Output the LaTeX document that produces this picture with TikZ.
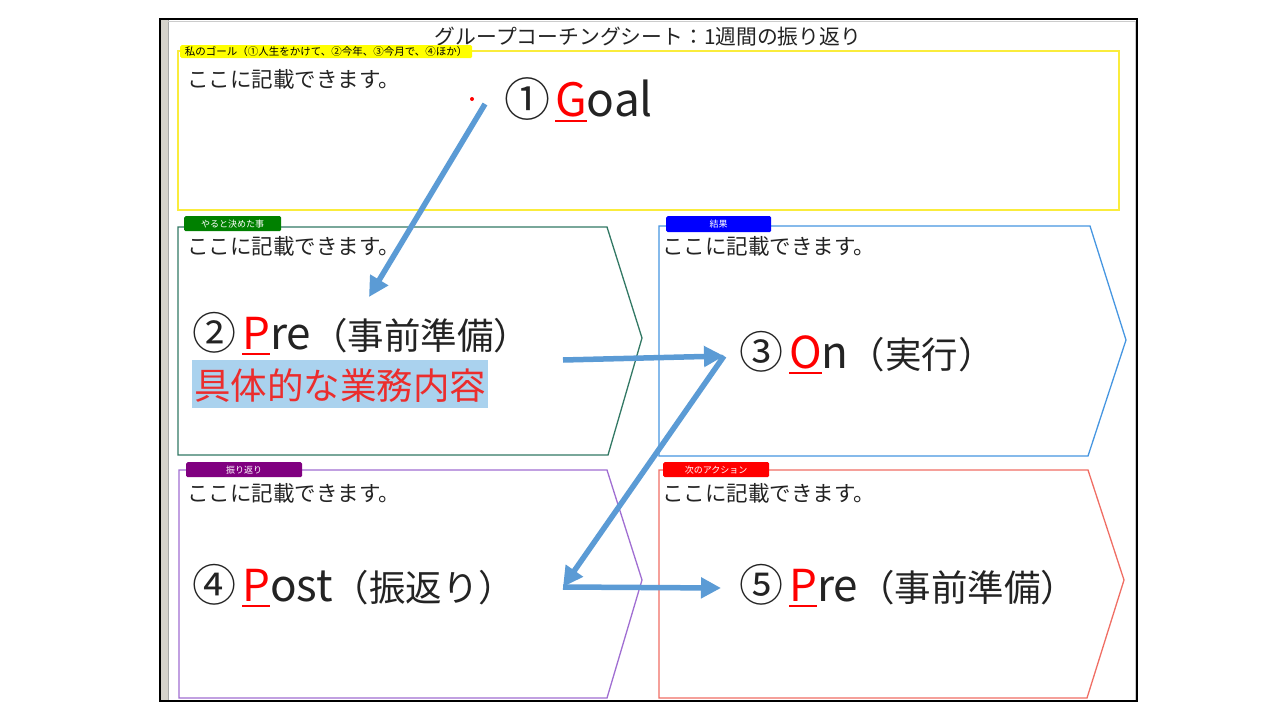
\documentclass[tikz,border=0pt]{standalone}
\usepackage{fontspec}
\setmainfont{Noto Sans CJK JP}
\usetikzlibrary{arrows.meta}
\definecolor{arrowblue}{RGB}{91,155,213}
\definecolor{ylwline}{RGB}{250,236,60}
\definecolor{grnline}{RGB}{50,120,100}
\definecolor{bluline}{RGB}{70,150,225}
\definecolor{purline}{RGB}{160,110,210}
\definecolor{redline}{RGB}{240,110,100}
\definecolor{tabgreen}{RGB}{0,128,0}
\definecolor{tabblue}{RGB}{0,0,255}
\definecolor{tabpurple}{RGB}{128,0,128}
\definecolor{tabred}{RGB}{255,0,0}
\definecolor{tabyellow}{RGB}{255,255,0}
\definecolor{hlblue}{RGB}{170,210,238}
\definecolor{txtdark}{RGB}{35,35,35}
\definecolor{txtred}{RGB}{235,45,45}
\definecolor{stripgray}{RGB}{214,211,204}
\newcommand\redul[1]{\textcolor{red}{\setbox0\hbox{#1}\rlap{\rule[-6pt]{\wd0}{2.2pt}}\box0}}
\newcommand\latbig[1]{{\fontsize{44}{50}\selectfont #1}}
\newcommand\circbig[1]{{\fontsize{44}{50}\selectfont #1}\hspace{6pt}}
\tikzset{
  boxline/.style={line width=1.3pt},
  tabbox/.style={draw=none, rounded corners=1.5pt, inner sep=0pt, anchor=north west,
     font=\fontsize{9}{10}\selectfont, text=white, minimum height=15pt},
  note/.style={anchor=base west, inner sep=0pt, text=txtdark, font=\fontsize{21.5}{24}\selectfont},
  big/.style={anchor=base west, inner sep=0pt, text=txtdark, font=\fontsize{36.5}{40}\selectfont},
  flow/.style={draw=arrowblue, line width=5.5pt, -{Triangle[length=20pt,width=20pt]}},
}
\begin{document}
\begin{tikzpicture}[x=1pt,y=-1pt]
\useasboundingbox (0,0) rectangle (1280,720);
\fill[white] (0,0) rectangle (1280,720);
% sheet frame
\fill[stripgray] (161,20) rectangle (168,700);
\draw[gray!70, line width=0.8pt] (168,20) -- (168,700);
\draw[gray!40, line width=0.8pt] (168,21.5) -- (1135.5,21.5) -- (1135.5,700);
\draw[black, line width=2pt] (160,19) rectangle (1137,701);
% title
\node[anchor=base, inner sep=0pt, text=txtdark, font=\fontsize{20.8}{24}\selectfont] (title) at (648,44) {グループコーチングシート：1週間の振り返り};
% boxes
\draw[boxline, draw=ylwline] (178,51) rectangle (1119,210);
\draw[boxline, draw=grnline] (178,227) -- (607,227) -- (642,338) -- (608,455) -- (178,455) -- cycle;
\draw[boxline, draw=bluline] (659,226) -- (1090,226) -- (1126,340) -- (1088,456) -- (659,456) -- cycle;
\draw[boxline, draw=purline] (179,470) -- (607,470) -- (642,580) -- (607,698) -- (179,698) -- cycle;
\draw[boxline, draw=redline] (659,470) -- (1088,470) -- (1124,580) -- (1087,698) -- (659,698) -- cycle;
% tabs
\node[tabbox, fill=tabyellow, text=black, minimum width=292pt, minimum height=13pt, font=\fontsize{10.5}{11}\selectfont] (tabgoal) at (180,45) {私のゴール（①人生をかけて、②今年、③今月で、④ほか）};
\node[tabbox, fill=tabgreen, minimum width=97pt] (tabpre) at (184,216) {やると決めた事};
\node[tabbox, fill=tabblue, minimum width=105pt, minimum height=16pt] (tabon) at (666,216) {結果};
\node[tabbox, fill=tabpurple, minimum width=116pt] (tabpost) at (186,462) {振り返り};
\node[tabbox, fill=tabred, minimum width=106pt] (tabnext) at (663,462) {次のアクション};
% placeholder texts
\node[note] (n1) at (187,87) {ここに記載できます。};
\node[note] (n2) at (187,254) {ここに記載できます。};
\node[note] (n3) at (662,254) {ここに記載できます。};
\node[note] (n4) at (187,501) {ここに記載できます。};
\node[note] (n5) at (662,501) {ここに記載できます。};
% big labels
\node[big, font=\fontsize{46}{50}\selectfont] (goal) at (504,116) {①\hspace{5pt}\redul{G}oal};
\node[big] (pre) at (192,349) {\circbig{②}\latbig{\redul{P}re}（事前準備）};
\node[big, fill=hlblue, text=txtred, inner xsep=2pt, inner ysep=0pt, text depth=9pt, text height=39pt] (detail) at (192,399) {具体的な業務内容};
\node[big] (on) at (739,368) {\circbig{③}\latbig{\redul{O}n}（実行）};
\node[big] (post) at (192,601) {\circbig{④}\latbig{\redul{P}ost}（振返り）};
\node[big] (next) at (739,601) {\circbig{⑤}\latbig{\redul{P}re}（事前準備）};
% red dot
\fill[red] (472,99) circle (2pt);
% arrows
\coordinate (a0) at (485,104);
\coordinate (a1) at (369,297);
\coordinate (b0) at (563,360);
\coordinate (b1) at (724,356);
\coordinate (c1) at (563,587);
\coordinate (d1) at (721,588);
\draw[flow] (a0) -- (a1);
\draw[flow] (b0) -- (b1);
\draw[flow] (b1) -- (c1);
\draw[flow] (c1) -- (d1);
\end{tikzpicture}
\end{document}
